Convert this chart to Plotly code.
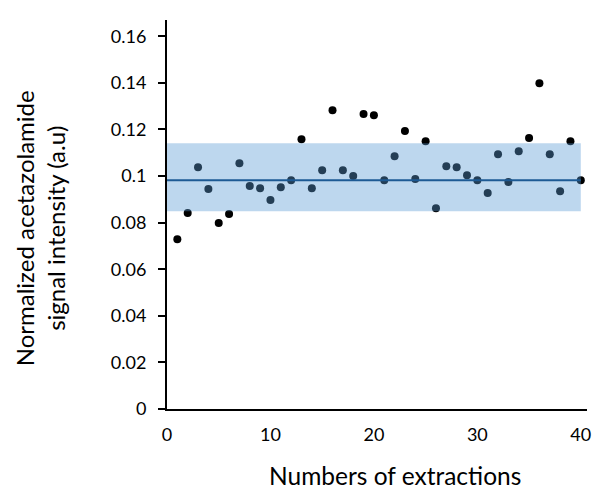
import plotly.graph_objects as go

extractions = list(range(1, 41))
signal = [0.0729, 0.0841, 0.1038, 0.0944, 0.0798, 0.0837, 0.1055, 0.0957, 0.0948, 0.0897,
          0.0952, 0.0982, 0.1158, 0.0948, 0.1025, 0.1283, 0.1025, 0.1000, 0.1266, 0.1261,
          0.0982, 0.1085, 0.1193, 0.0987, 0.1150, 0.0862, 0.1042, 0.1038, 0.1004, 0.0982,
          0.0927, 0.1094, 0.0974, 0.1107, 0.1163, 0.1399, 0.1094, 0.0935, 0.1150, 0.0982]
mean_value = 0.0982
band_low = 0.0849
band_high = 0.1141
band_x = [0, 40]

y_tickvals = [0, 0.02, 0.04, 0.06, 0.08, 0.1, 0.12, 0.14, 0.16]
y_ticktext = ["0", "0.02", "0.04", "0.06", "0.08", "0.1", "0.12", "0.14", "0.16"]
x_tickvals = [0, 10, 20, 30, 40]
x_ticktext = ["0", "10", "20", "30", "40"]

x_title = "Numbers of extractions"
y_title = "Normalized acetazolamide<br>signal intensity (a.u)"

FONT = "Lato, Open Sans, sans-serif"

fig = go.Figure()
fig.add_trace(go.Scatter(
    x=extractions, y=signal, mode="markers",
    marker=dict(color="black", size=8),
    showlegend=False, cliponaxis=False,
))

fig.add_shape(type="rect", xref="x", yref="y",
              x0=band_x[0], x1=band_x[1], y0=band_low, y1=band_high,
              fillcolor="rgba(91,155,213,0.4)", line=dict(width=0), layer="above")
fig.add_shape(type="line", xref="x", yref="y",
              x0=band_x[0], x1=band_x[1], y0=mean_value, y1=mean_value,
              line=dict(color="#1D5A94", width=2), layer="above")

fig.add_annotation(text=x_title, xref="paper", yref="paper",
                   x=0.543, y=-0.172, xanchor="center", yanchor="middle",
                   showarrow=False, font=dict(size=24.5))
fig.add_annotation(text=y_title, xref="paper", yref="paper",
                   x=-0.302, y=0.465, xanchor="center", yanchor="middle",
                   textangle=-90, showarrow=False, font=dict(size=24))

# page body has an 8px default margin; size the figure so it fits the window
fig.update_layout(
    width=606, height=481,
    margin=dict(l=159, r=27, t=12, b=80),
    plot_bgcolor="white", paper_bgcolor="white",
    font=dict(family=FONT, color="black", size=18),
    xaxis=dict(
        range=[0, 40.6], tickvals=x_tickvals, ticktext=x_ticktext,
        showline=True, linecolor="black", linewidth=2, showgrid=False, zeroline=False,
        ticks="outside", ticklen=8, tickcolor="rgba(0,0,0,0)",
        tickfont=dict(size=18), automargin=False,
    ),
    yaxis=dict(
        range=[0, 0.167], tickvals=y_tickvals, ticktext=y_ticktext,
        showline=True, linecolor="black", linewidth=2, showgrid=False, zeroline=False,
        ticks="outside", ticklen=7, tickwidth=1.5, tickcolor="black",
        tickfont=dict(size=18), automargin=False, ticklabelstandoff=8,
    ),
)

fig.write_html("out.html")
